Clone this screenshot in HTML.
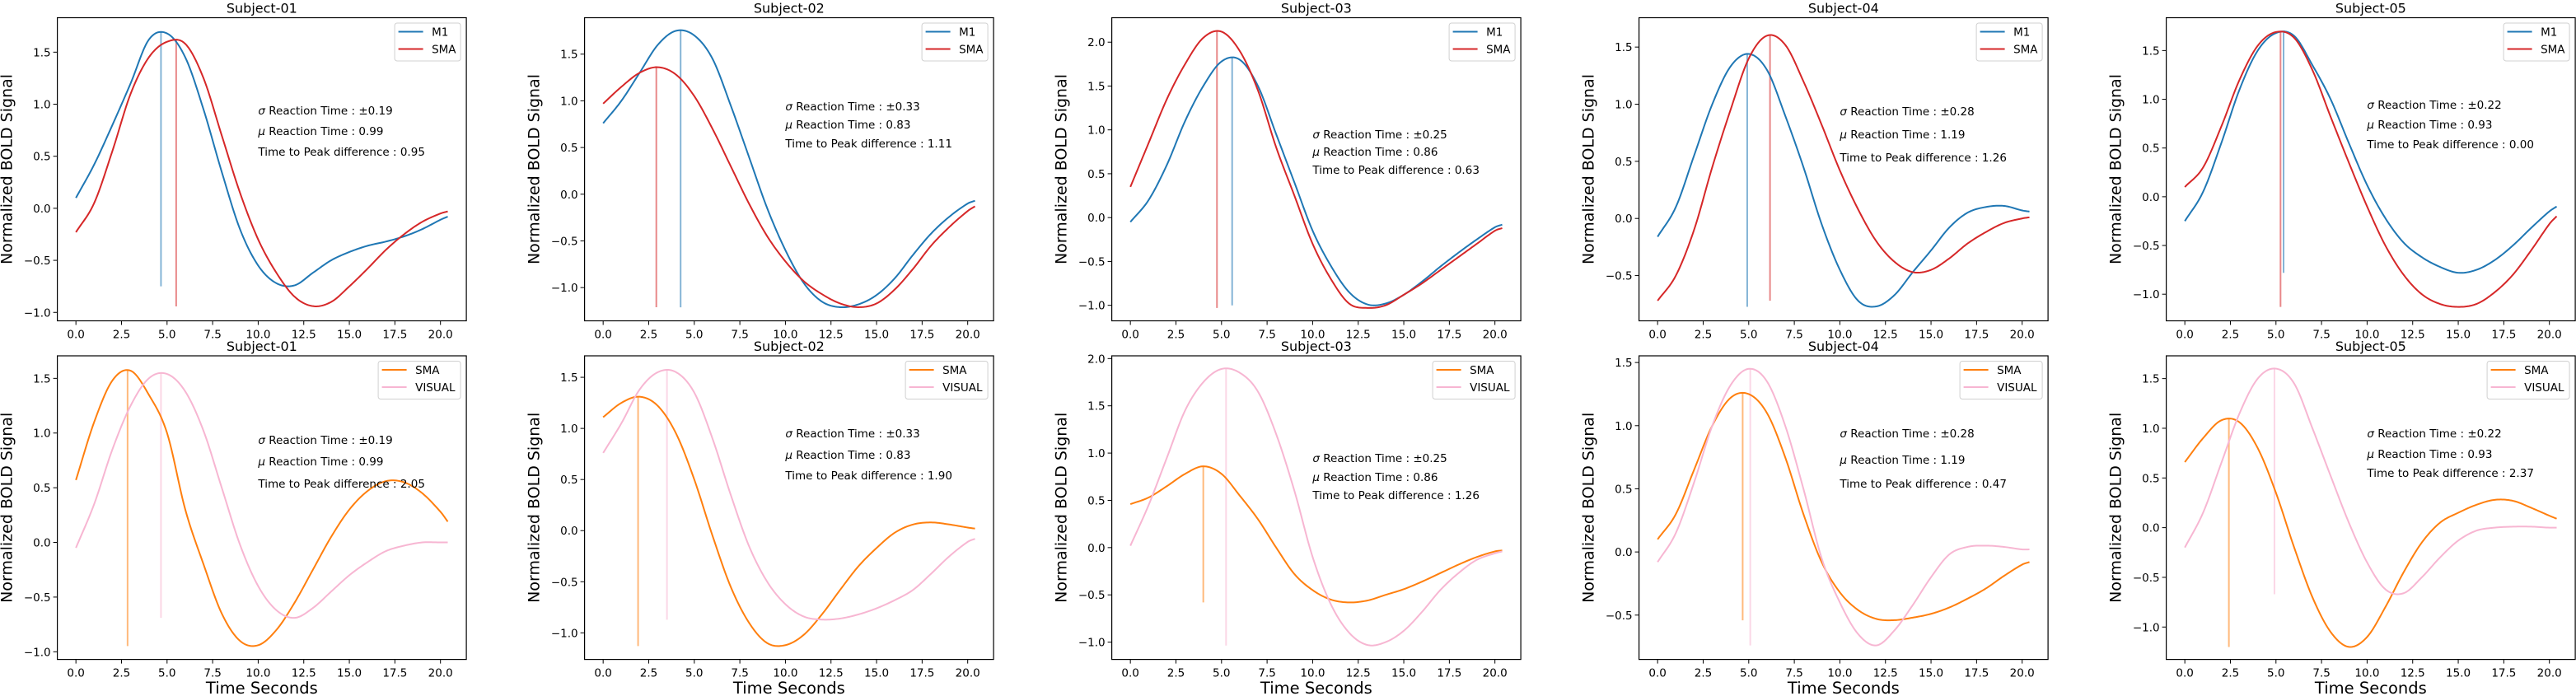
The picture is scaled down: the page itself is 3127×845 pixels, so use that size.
<!DOCTYPE html>
<html><head><meta charset="utf-8"><style>
html,body{margin:0;padding:0;background:#fff}
svg{display:block}
text{font-family:"DejaVu Sans","Liberation Sans",sans-serif;fill:#000}
</style></head><body>
<svg id="fig" width="3127" height="845" viewBox="0 0 3127 845" xmlns="http://www.w3.org/2000/svg"></svg>
<script>
const times = [0,1,2,3,4,5,6,7,8,9,10,11,12,13,14,15,16,17,18,19,20,20.4];
const subjects = ["Subject-01","Subject-02","Subject-03","Subject-04","Subject-05"];
const sigmaRT = ["0.19","0.33","0.25","0.28","0.22"];
const muRT = ["0.99","0.83","0.86","1.19","0.93"];
const ttpTop = ["0.95","1.11","0.63","1.26","0.00"];
const ttpBottom = ["2.05","1.90","1.26","0.47","2.37"];
const xTicks = [0,2.5,5,7.5,10,12.5,15,17.5,20];
const s1_m1 = [0.1,0.42,0.8,1.2,1.62,1.68,1.45,0.95,0.35,-0.2,-0.55,-0.72,-0.74,-0.62,-0.5,-0.42,-0.36,-0.32,-0.27,-0.2,-0.11,-0.08];
const s1_sma = [-0.23,0.05,0.55,1.1,1.45,1.6,1.58,1.25,0.7,0.15,-0.3,-0.62,-0.85,-0.94,-0.9,-0.75,-0.58,-0.4,-0.25,-0.13,-0.05,-0.03];
const s1_sma2 = [0.57,1.1,1.48,1.57,1.35,1.0,0.3,-0.2,-0.65,-0.9,-0.94,-0.8,-0.55,-0.25,0.05,0.3,0.47,0.56,0.55,0.45,0.28,0.19];
const s1_vis = [-0.05,0.35,0.85,1.25,1.5,1.54,1.38,1.02,0.5,-0.02,-0.4,-0.62,-0.69,-0.6,-0.45,-0.3,-0.18,-0.08,-0.03,0,0,0];
const s2_m1 = [0.76,1.0,1.3,1.6,1.75,1.7,1.45,0.95,0.4,-0.15,-0.6,-0.95,-1.15,-1.21,-1.18,-1.08,-0.9,-0.65,-0.42,-0.24,-0.1,-0.07];
const s2_sma = [0.97,1.15,1.3,1.36,1.28,1.05,0.7,0.3,-0.1,-0.45,-0.72,-0.93,-1.07,-1.17,-1.21,-1.17,-1.02,-0.8,-0.55,-0.35,-0.18,-0.13];
const s2_sma2 = [1.11,1.25,1.31,1.22,0.95,0.5,-0.05,-0.55,-0.9,-1.1,-1.12,-1.02,-0.82,-0.58,-0.35,-0.17,-0.02,0.06,0.08,0.06,0.03,0.02];
const s2_vis = [0.76,1.05,1.38,1.55,1.55,1.35,0.9,0.35,-0.15,-0.5,-0.72,-0.84,-0.87,-0.86,-0.82,-0.76,-0.68,-0.58,-0.42,-0.25,-0.11,-0.08];
const s3_m1 = [-0.05,0.2,0.6,1.1,1.5,1.78,1.8,1.5,0.95,0.4,-0.15,-0.55,-0.85,-0.99,-0.98,-0.88,-0.73,-0.56,-0.4,-0.25,-0.11,-0.08];
const s3_sma = [0.35,0.85,1.35,1.75,2.05,2.12,1.9,1.45,0.8,0.25,-0.3,-0.7,-0.98,-1.03,-1.0,-0.88,-0.75,-0.6,-0.45,-0.3,-0.15,-0.12];
const s3_sma2 = [0.46,0.53,0.65,0.78,0.86,0.78,0.55,0.3,0.0,-0.28,-0.45,-0.55,-0.58,-0.56,-0.5,-0.44,-0.36,-0.27,-0.18,-0.1,-0.04,-0.03];
const s3_vis = [0.02,0.45,0.95,1.45,1.75,1.89,1.85,1.65,1.2,0.6,-0.1,-0.6,-0.9,-1.03,-1.0,-0.88,-0.68,-0.45,-0.27,-0.13,-0.06,-0.04];
const s4_m1 = [-0.16,0.1,0.55,1.0,1.33,1.44,1.3,0.9,0.45,-0.05,-0.45,-0.72,-0.77,-0.67,-0.47,-0.28,-0.08,0.05,0.1,0.11,0.07,0.06];
const s4_sma = [-0.72,-0.5,-0.1,0.45,0.95,1.4,1.6,1.52,1.2,0.82,0.42,0.08,-0.2,-0.38,-0.47,-0.45,-0.35,-0.22,-0.12,-0.04,0.0,0.01];
const s4_sma2 = [0.1,0.3,0.65,1.0,1.22,1.25,1.1,0.75,0.3,-0.08,-0.32,-0.46,-0.53,-0.54,-0.52,-0.49,-0.44,-0.37,-0.29,-0.19,-0.1,-0.08];
const s4_vis = [-0.08,0.15,0.55,1.0,1.32,1.45,1.35,1.0,0.5,-0.05,-0.4,-0.65,-0.74,-0.62,-0.42,-0.2,-0.02,0.04,0.05,0.04,0.02,0.02];
const s5_m1 = [-0.25,0.05,0.55,1.1,1.5,1.68,1.65,1.35,1.0,0.55,0.12,-0.22,-0.47,-0.62,-0.72,-0.78,-0.75,-0.65,-0.5,-0.32,-0.15,-0.1];
const s5_sma = [0.1,0.3,0.72,1.2,1.55,1.69,1.63,1.3,0.82,0.35,-0.1,-0.5,-0.8,-1.0,-1.1,-1.13,-1.1,-0.98,-0.8,-0.55,-0.28,-0.2];
const s5_sma2 = [0.66,0.9,1.08,1.06,0.8,0.35,-0.2,-0.7,-1.05,-1.2,-1.1,-0.8,-0.45,-0.15,0.05,0.15,0.23,0.28,0.27,0.2,0.12,0.09];
const s5_vis = [-0.2,0.15,0.65,1.15,1.5,1.6,1.45,1.0,0.52,0.05,-0.35,-0.62,-0.66,-0.5,-0.3,-0.13,-0.03,0.0,0.01,0.01,0.0,0.0];

const topSeries = [[s1_m1,s1_sma],[s2_m1,s2_sma],[s3_m1,s3_sma],[s4_m1,s4_sma],[s5_m1,s5_sma]];
const botSeries = [[s1_sma2,s1_vis],[s2_sma2,s2_vis],[s3_sma2,s3_vis],[s4_sma2,s4_vis],[s5_sma2,s5_vis]];
const topYlim = [[-1.081,1.831],[-1.356,1.890],[-1.177,2.279],[-0.896,1.757],[-1.273,1.837]];
const botYlim = [[-1.070,1.706],[-1.260,1.710],[-1.183,2.029],[-0.851,1.553],[-1.326,1.729]];
const topTextY = [[134,159,184],[129,151,174],[163,184,206],[135,163,191],[127,151,175]];
const botTextY = [[534,560,587],[526,552,577],[556,579,601],[526,558,587],[526,551,574]];

const NS = "http://www.w3.org/2000/svg";
const svg = document.getElementById('fig');
function mk(tag, attrs, parent){ const e=document.createElementNS(NS,tag); for(const k in attrs) e.setAttribute(k,attrs[k]); (parent||svg).appendChild(e); return e; }

function dense(xs, ys){
  const out=[]; const n=xs.length;
  const m=ys.map((y,i)=>{ if(i===0) return (ys[1]-ys[0])/(xs[1]-xs[0]); if(i===n-1) return (ys[n-1]-ys[n-2])/(xs[n-1]-xs[n-2]); return (ys[i+1]-ys[i-1])/(xs[i+1]-xs[i-1]); });
  for(let i=0;i<n-1;i++){ const h=xs[i+1]-xs[i]; const N=12;
    for(let k=0;k<N;k++){ const t=k/N; const t2=t*t,t3=t2*t;
      const y=(2*t3-3*t2+1)*ys[i]+(t3-2*t2+t)*h*m[i]+(-2*t3+3*t2)*ys[i+1]+(t3-t2)*h*m[i+1];
      out.push([xs[i]+t*h,y]); } }
  out.push([xs[n-1],ys[n-1]]); return out;
}

const AX_W=496.5, XMIN=-1.02, XMAX=21.42;
const colors = {blue:"#1f77b4", red:"#d62728", orange:"#ff7f0e", pink:"#f7b6d2"};

function drawAxes(c, row){
  const left=69.6+640*c, top=row===0?21.5:432, bottom=row===0?389.5:800.6;
  const ylim=row===0?topYlim[c]:botYlim[c];
  const series=row===0?topSeries[c]:botSeries[c];
  const cols=row===0?[colors.blue,colors.red]:[colors.orange,colors.pink];
  const names=row===0?["M1","SMA"]:["SMA","VISUAL"];
  const sx=v=>left+(v-XMIN)/(XMAX-XMIN)*AX_W;
  const sy=v=>bottom-(v-ylim[0])/(ylim[1]-ylim[0])*(bottom-top);
  const g=mk('g',{});
  
  
  const cid='clip'+row+'_'+c;
  const cp=mk('clipPath',{id:cid},g); mk('rect',{x:left,y:top,width:AX_W,height:bottom-top},cp);
  const ti=mk('text',{x:left+AX_W/2,y:top-6,'font-size':'16','text-anchor':'middle'},g); ti.textContent=subjects[c];
  
  
  const plotG=mk('g',{'clip-path':'url(#'+cid+')'},g);
  const curves=series.map(ys=>dense(times,ys));
  curves.forEach((pts,si)=>{
    let mx=-1e9,mn=1e9,px=0;
    pts.forEach(p=>{ if(p[1]>mx){mx=p[1];px=p[0];} if(p[1]<mn) mn=p[1]; });
    const vl=mk('line',{x1:sx(px),x2:sx(px),y1:sy(mn),y2:sy(mx),stroke:cols[si],'stroke-width':2,'stroke-opacity':0.55},plotG);
    
    
  });
  curves.forEach((pts,si)=>{
    const d=pts.map((p,i)=>(i?'L':'M')+sx(p[0]).toFixed(2)+' '+sy(p[1]).toFixed(2)).join(' ');
    const pa=mk('path',{d:d,fill:'none',stroke:cols[si],'stroke-width':2,'stroke-linejoin':'round'},plotG);
    
    
  });
  const fr=mk('rect',{x:left,y:top,width:AX_W,height:bottom-top,fill:'none',stroke:'#000','stroke-width':1.2},g);
  
  
  xTicks.forEach(t=>{ const x=sx(t);
    mk('line',{x1:x,x2:x,y1:bottom,y2:bottom+5,stroke:'#000','stroke-width':1},g);
    const tl=mk('text',{x:x,y:bottom+21,'font-size':'13.5','text-anchor':'middle'},g); tl.textContent=t.toFixed(1);
    
    
  });
  for(let v=Math.ceil(ylim[0]*2)/2; v<=ylim[1]+1e-9; v+=0.5){ const y=sy(v);
    mk('line',{x1:left-5,x2:left,y1:y,y2:y,stroke:'#000','stroke-width':1},g);
    const tl=mk('text',{x:left-8,y:y+5,'font-size':'13.5','text-anchor':'end'},g); tl.textContent=(v<0?'\u2212':'')+Math.abs(v).toFixed(1);
    
    
  }
  const cy=(top+bottom)/2, lx=left-61;
  const yl=mk('text',{x:lx,y:cy,'font-size':'19','text-anchor':'middle','dominant-baseline':'central',transform:'rotate(-90 '+lx+' '+cy+')'},g);
  yl.textContent='Normalized BOLD Signal';
  
  
  if(row===1){ const xl=mk('text',{x:left+AX_W/2,y:842,'font-size':'19.5','text-anchor':'middle'},g); xl.textContent='Time Seconds';
    
     }
  const ty=row===0?topTextY[c]:botTextY[c]; const ax=sx(10);
  const lines=[['\u03c3',' Reaction Time : \u00b1'+sigmaRT[c]],['\u03bc',' Reaction Time : '+muRT[c]],['','Time to Peak difference : '+(row===0?ttpTop[c]:ttpBottom[c])]];
  lines.forEach((ln,i)=>{ const t=mk('text',{x:ax,y:ty[i]+5,'font-size':'13.5'},g);
    
    
    if(ln[0]){ const s=mk('tspan',{'font-style':'italic'},t); s.textContent=ln[0]; }
    const s2=mk('tspan',{},t); s2.textContent=ln[1]; });
  const lw=row===0?80:100, lr=left+AX_W-7, lt=top+6.5;
  const lg=mk('g',{},g);
  
  
  mk('rect',{x:lr-lw,y:lt,width:lw,height:46,rx:3,fill:'#fff','fill-opacity':0.8,stroke:'#d0d0d0','stroke-width':1},lg);
  names.forEach((nm,i)=>{ const yy=lt+10.5+i*21;
    mk('line',{x1:lr-lw+4.5,x2:lr-lw+34.5,y1:yy,y2:yy,stroke:cols[i],'stroke-width':2},lg);
    const t=mk('text',{x:lr-lw+45,y:yy+5,'font-size':'13.5'},lg); t.textContent=nm;
    
    
  });
}
for(let c=0;c<5;c++){ drawAxes(c,0); drawAxes(c,1); }
</script>
</body></html>
